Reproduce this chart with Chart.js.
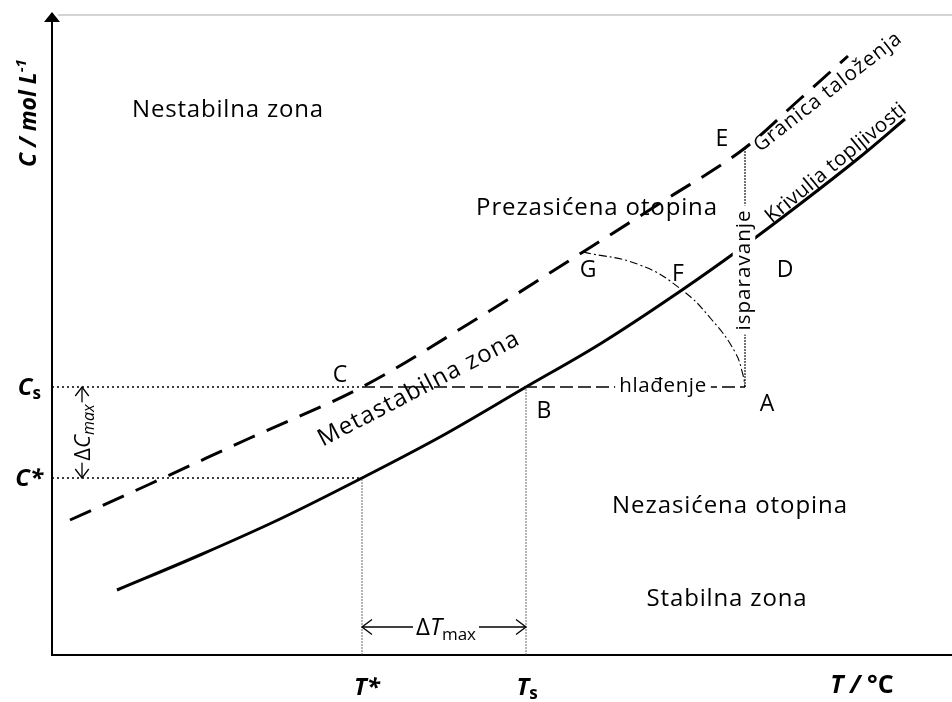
<!DOCTYPE html>
<html><head><meta charset="utf-8">
<script src="https://cdn.jsdelivr.net/npm/chart.js@4/dist/chart.umd.min.js"></script>
<style>html,body{margin:0;padding:0;background:#fff}#wrap{width:952px;height:702px;position:relative}</style>
</head><body><div id="wrap"><canvas id="c"></canvas></div>
<script>
// ---- schematic data (T along x, C along y, arbitrary units) ----
const solidT  = [65, 148, 228, 310, 388, 474, 548, 630, 688, 748, 808, 853];   // Krivulja topljivosti
const solidC  = [65, 100, 136, 177, 218, 268, 311, 365, 406, 451, 498, 536];
const dashedT = [18, 98, 198, 310, 418, 531, 613, 693, 748, 796];              // Granica taloženja
const dashedC = [135, 171, 217, 268, 332, 403, 455, 507, 556, 599];
const arcT    = [531, 588, 630, 660, 683, 691, 693];                            // G - F - A
const arcC    = [403, 390, 365, 335, 303, 280, 268];
const tStar = 310, tS = 474, tA = 693;     // T*, Ts, T at A/E
const cStar = 177, cS = 268, cE = 507;     // C*, Cs, C at E
const dTlevel = 28;                         // ΔTmax arrow level
const dCpos = 30;                           // ΔCmax arrow position
const zoneLabels = ['Nestabilna zona','Prezasićena otopina','Nezasićena otopina','Stabilna zona'];
const zoneT = [176, 545, 678, 675];
const zoneC = [538, 440, 142, 49];
const pointLetters = ['A','B','C','D','E','F','G'];
const letterT = [715, 492, 288, 733, 670, 626, 536];
const letterC = [244, 237, 273, 378, 509, 374, 378];

const FONT = '"Open Sans", Lato, sans-serif';
const pts = (xs, ys) => xs.map((v, i) => ({x: v, y: ys[i]}));

function setFit(ctx, text, font, target) {
  ctx.font = font; ctx.letterSpacing = '0px';
  if (!target) return;
  const w = ctx.measureText(text).width;
  const sp = (target - w) / Math.max(1, text.length - 1);
  ctx.letterSpacing = Math.max(-1, Math.min(4, sp)).toFixed(2) + 'px';
}
function runs(ctx, segs, x, y, align) {
  let w = 0;
  segs.forEach(s => { ctx.font = s.f; s.w = ctx.measureText(s.t).width; w += s.w; });
  let cx = align === 'center' ? x - w / 2 : align === 'right' ? x - w : x;
  ctx.textAlign = 'left';
  segs.forEach(s => { ctx.font = s.f; ctx.fillText(s.t, cx, y + (s.dy || 0)); cx += s.w; });
  return w;
}
function chevron(ctx, x, y, dx, dy, s) {
  const px = -dy, py = dx;
  ctx.beginPath();
  ctx.moveTo(x - dx * s + px * s * 0.75, y - dy * s + py * s * 0.75);
  ctx.lineTo(x, y);
  ctx.lineTo(x - dx * s - px * s * 0.75, y - dy * s - py * s * 0.75);
  ctx.stroke();
}
function rotLabel(ctx, text, x, y, size, deg, target, bg) {
  ctx.save();
  ctx.translate(x, y);
  ctx.rotate(deg * Math.PI / 180);
  setFit(ctx, text, size + 'px ' + FONT, target);
  const w = ctx.measureText(text).width;
  if (bg) { ctx.fillStyle = '#fff'; ctx.fillRect(-w / 2 - 4, -size * 0.55, w + 8, size * 1.1); }
  ctx.fillStyle = '#000';
  ctx.textAlign = 'center';
  ctx.textBaseline = 'middle';
  ctx.fillText(text, 0, 0);
  ctx.restore();
}

const overlay = {
  id: 'overlay',
  afterDatasetsDraw(chart) {
    const {ctx, chartArea: a, scales: {x, y}} = chart;
    const X = v => x.getPixelForValue(v), Y = v => y.getPixelForValue(v);
    ctx.save();
    // top frame line
    ctx.strokeStyle = '#d4d4d4'; ctx.lineWidth = 2;
    ctx.beginPath(); ctx.moveTo(a.left + 6, a.top); ctx.lineTo(a.right, a.top); ctx.stroke();
    // y axis arrow
    ctx.fillStyle = '#000';
    ctx.beginPath(); ctx.moveTo(a.left, a.top - 3); ctx.lineTo(a.left - 8, a.top + 7); ctx.lineTo(a.left + 8, a.top + 7); ctx.closePath(); ctx.fill();

    ctx.fillStyle = '#000'; ctx.textBaseline = 'alphabetic';
    const zoneW = [191, 241, 235, 160];
    zoneLabels.forEach((t, i) => {
      ctx.save(); setFit(ctx, t, '24px ' + FONT, zoneW[i]); ctx.textAlign = 'center';
      ctx.fillText(t, X(zoneT[i]), Y(zoneC[i])); ctx.restore();
    });
    pointLetters.forEach((t, i) => { ctx.font = '23px ' + FONT; ctx.textAlign = 'center'; ctx.fillText(t, X(letterT[i]), Y(letterC[i])); });

    // rotated labels
    rotLabel(ctx, 'Metastabilna zona', X(367), Y(266), 24, -27.5, 223, false);
    rotLabel(ctx, 'Granica taloženja', X(776), Y(563), 20.5, -38, 181, false);
    rotLabel(ctx, 'Krivulja topljivosti', X(784), Y(492), 20.5, -39.5, 176, false);
    rotLabel(ctx, 'isparavanje', X(tA) - 1, Y(385), 20.5, -90, 120, true);
    rotLabel(ctx, 'hlađenje', X(611), Y(cS) - 1, 20.5, 0, 87, true);

    // ΔTmax arrow
    ctx.strokeStyle = '#000'; ctx.lineWidth = 1.3;
    const ay = Y(dTlevel);
    chevron(ctx, X(tStar), ay, -1, 0, 10);
    chevron(ctx, X(tS), ay, 1, 0, 10);
    {
      const segs = [{t: 'Δ', f: '24px ' + FONT}, {t: 'T', f: 'italic 24px ' + FONT}, {t: 'max', f: '17px ' + FONT, dy: 5}];
      let w = 0; segs.forEach(s => { ctx.font = s.f; w += ctx.measureText(s.t).width; });
      const cx = (X(tStar) + X(tS)) / 2 + 2;
      ctx.fillStyle = '#fff'; ctx.fillRect(cx - w / 2 - 3, ay - 12, w + 6, 24);
      ctx.fillStyle = '#000'; runs(ctx, segs, cx, ay + 8, 'center');
    }
    // ΔCmax arrow
    const axp = X(dCpos);
    chevron(ctx, axp, Y(cS), 0, -1, 9);
    chevron(ctx, axp, Y(cStar), 0, 1, 9);
    ctx.save();
    ctx.translate(axp + 8, (Y(cS) + Y(cStar)) / 2);
    ctx.rotate(-Math.PI / 2);
    {
      const segs = [{t: 'Δ', f: '22px ' + FONT}, {t: 'C', f: 'italic 22px ' + FONT}, {t: 'max', f: 'italic 16px ' + FONT, dy: 4}];
      let w = 0; segs.forEach(s => { ctx.font = s.f; w += ctx.measureText(s.t).width; });
      ctx.fillStyle = '#fff'; ctx.fillRect(-w / 2 - 2, -19, w + 4, 25);
      ctx.fillStyle = '#000'; runs(ctx, segs, 0, 0, 'center');
    }
    ctx.restore();

    // axis labels
    const B = 'italic bold 24px ' + FONT;
    ctx.fillStyle = '#000';
    runs(ctx, [{t: 'C', f: B}, {t: 's', f: 'bold 17px ' + FONT, dy: 4}], a.left - 11, Y(cS) + 8, 'right');
    runs(ctx, [{t: 'C*', f: B}], a.left - 9, Y(cStar) + 8, 'right');
    runs(ctx, [{t: 'T*', f: B}], X(tStar) + 5, a.bottom + 40, 'center');
    runs(ctx, [{t: 'T', f: B}, {t: 's', f: 'bold 17px ' + FONT, dy: 4}], X(tS) + 1, a.bottom + 40, 'center');
    runs(ctx, [{t: 'T / ', f: 'italic bold 25px ' + FONT}, {t: '°C', f: 'bold 25px ' + FONT}], 862, a.bottom + 38, 'center');
    ctx.save();
    ctx.translate(36, 167);
    ctx.rotate(-Math.PI / 2);
    runs(ctx, [{t: 'C / mol L', f: 'italic bold 23px ' + FONT}, {t: '-1', f: 'italic bold 15px ' + FONT, dy: -10}], 0, 0, 'left');
    ctx.restore();
    ctx.restore();
  }
};

const line = (data, o) => Object.assign({data, showLine: true, pointRadius: 0, borderColor: '#000', fill: false, tension: 0}, o);

new Chart(document.getElementById('c'), {
  type: 'scatter',
  data: {
    datasets: [
      line(pts([0, tStar], [cStar, cStar]), {borderWidth: 1.5, borderDash: [2, 3]}),
      line(pts([0, tStar], [cS, cS]), {borderWidth: 1.5, borderDash: [2, 3]}),
      line(pts([tStar, tStar], [0, cStar]), {borderWidth: 0.8, borderColor: '#444', borderDash: [2, 1]}),
      line(pts([tS, tS], [0, cS]), {borderWidth: 0.8, borderColor: '#444', borderDash: [2, 1]}),
      line(pts([tStar, tS], [dTlevel, dTlevel]), {borderWidth: 1.3}),
      line(pts([dCpos, dCpos], [cStar, cS]), {borderWidth: 1.3}),
      line(pts([tStar, tA], [cS, cS]), {borderWidth: 1.6, borderDash: [13, 5]}),
      line(pts([tA, tA], [cS, cE]), {borderWidth: 1.1, borderDash: [2, 1]}),
      line(pts(arcT, arcC), {borderWidth: 1.1, borderDash: [8, 3, 2, 3], tension: 0.45}),
      line(pts(solidT, solidC), {borderWidth: 3, cubicInterpolationMode: 'monotone'}),
      line(pts(dashedT, dashedC), {borderWidth: 3, borderDash: [23, 13], cubicInterpolationMode: 'monotone'})
    ]
  },
  options: {
    responsive: true, maintainAspectRatio: false, animation: false,
    layout: {padding: {left: 52, right: 0, top: 15, bottom: 47}},
    plugins: {legend: {display: false}, tooltip: {enabled: false}},
    scales: {
      x: {type: 'linear', min: 0, max: 900, grid: {display: false, drawTicks: false}, ticks: {display: false}, border: {color: '#000', width: 2}},
      y: {type: 'linear', min: 0, max: 640, grid: {display: false, drawTicks: false}, ticks: {display: false}, border: {color: '#000', width: 2}}
    }
  },
  plugins: [overlay]
});
</script>
</body></html>
